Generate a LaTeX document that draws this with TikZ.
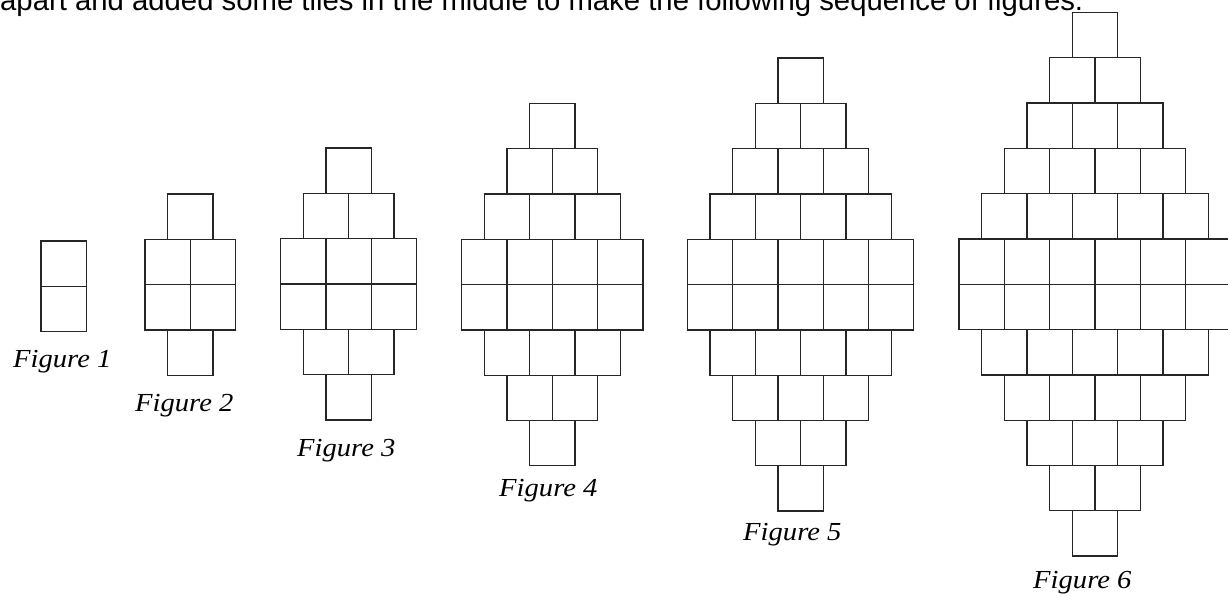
\documentclass[tikz,border=0pt]{standalone}
\usepackage{fontspec}
\setmainfont{Liberation Serif}
\newfontfamily\introfont{Liberation Sans}
\begin{document}
\begin{tikzpicture}[x=1pt,y=-1pt,
  tile/.style={draw=black!85, line width=1.3pt, fill=white},
  figlabel/.style={font=\fontsize{26}{30}\selectfont\itshape, anchor=base west, inner sep=0pt, xscale=1.1, transform shape},
  intro/.style={font=\introfont\fontsize{29.3}{34}\selectfont, anchor=base west, inner sep=0pt}]
\clip (0,0) rectangle (1228,595);
\fill[white] (0,0) rectangle (1228,595);
\def\tw{45.3}
\foreach \n/\cx/\my in {1/63.65/241, 2/190.3/239.3, 3/348.65/238.7, 4/552.3/239.3, 5/800.55/239.3, 6/1094.9/239}{
  \pgfmathtruncatemacro\R{2*\n}
  \foreach \r in {1,...,\R}{
    \pgfmathtruncatemacro\k{min(\r,\n,2*\n+1-\r)}
    \foreach \c in {1,...,\k}{
      \draw[tile] ({\cx-\k*\tw/2+(\c-1)*\tw},{\my+(\r-\n)*\tw}) rectangle ++(\tw,\tw);
    }
  }
}
\node[intro] (introtext) at (0,10) {apart and added some tiles in the middle to make the following sequence of figures.};
\node[figlabel] (lab1) at (13,367) {Figure 1};
\node[figlabel] (lab2) at (135,411) {Figure 2};
\node[figlabel] (lab3) at (297,456) {Figure 3};
\node[figlabel] (lab4) at (499,496) {Figure 4};
\node[figlabel] (lab5) at (743,540) {Figure 5};
\node[figlabel] (lab6) at (1033,588) {Figure 6};
\end{tikzpicture}
\end{document}
